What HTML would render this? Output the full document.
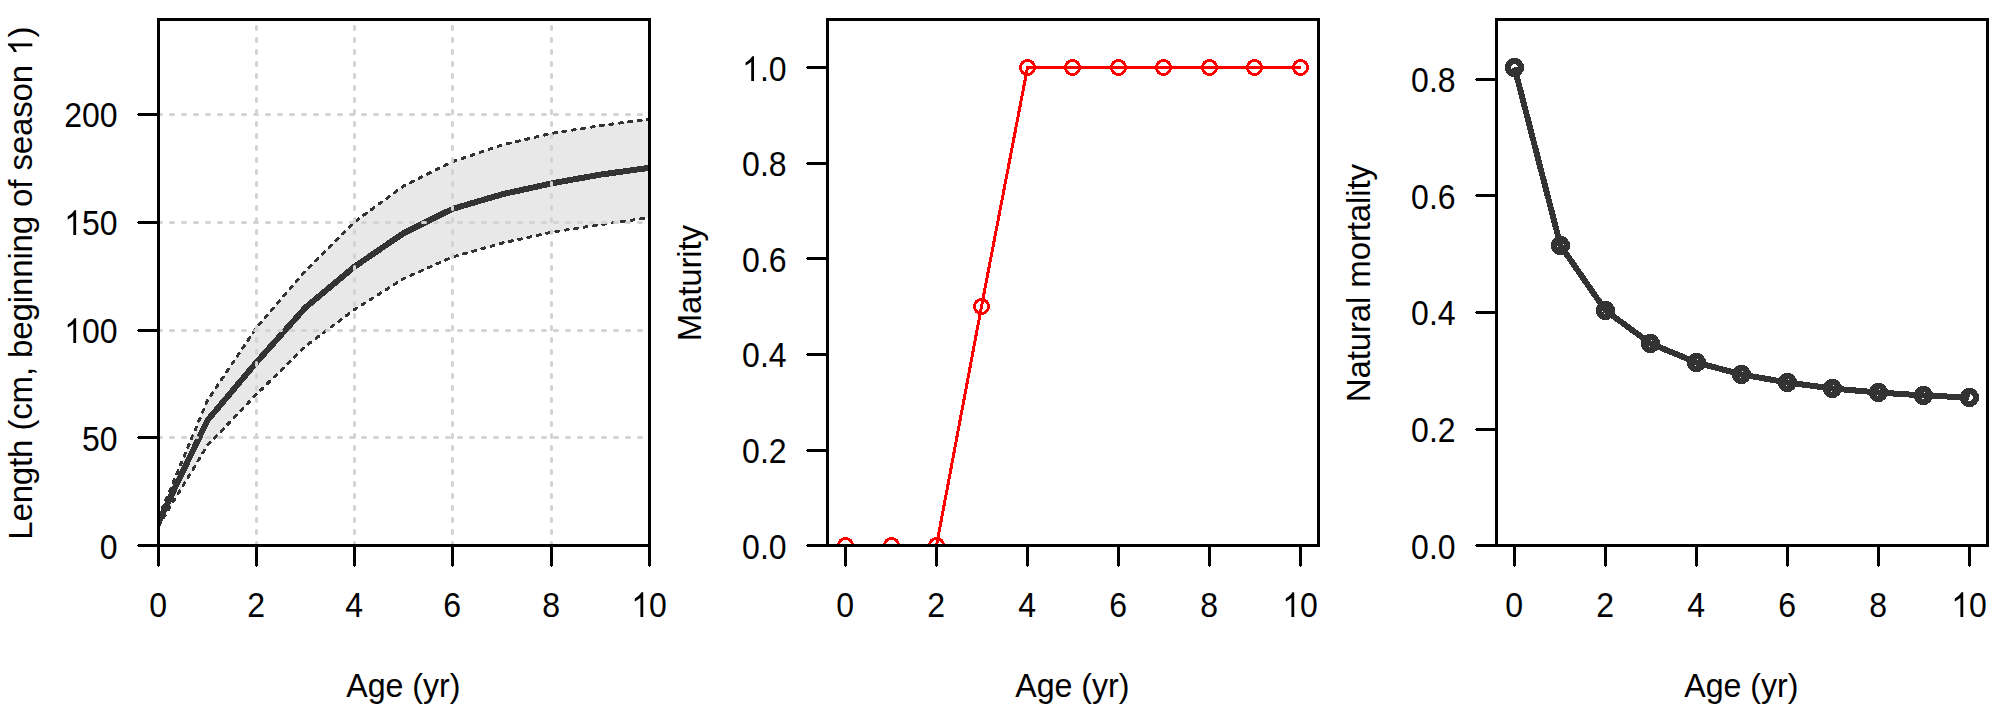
<!DOCTYPE html>
<html><head><meta charset="utf-8"><title>Biology plots</title>
<style>
html,body{margin:0;padding:0;background:#fff;}
body{width:2007px;height:708px;overflow:hidden;}
svg{display:block;}
text{font-family:"Liberation Sans",sans-serif;font-size:33px;fill:#000;}
</style></head><body>
<svg width="2007" height="708" viewBox="0 0 2007 708">
<rect width="2007" height="708" fill="#fff"/>
<!-- Panel 1: growth -->
<clipPath id="c1"><rect x="158.5" y="19.5" width="491" height="526"/></clipPath>
<g clip-path="url(#c1)">
<polygon points="158.5,517.5 207.5,400.4 256.5,327.6 305.5,270.9 354.5,221.9 403.5,186.1 452.5,161.7 502.5,144.8 551.5,133.4 600.5,125.6 649.5,119.1 649.5,217.6 600.5,224.6 551.5,232.3 502.5,243 452.5,257 403.5,278.7 354.5,309.5 305.5,346.3 256.5,394.3 207.5,445.3 158.5,526" fill="#e8e8e8" shape-rendering="crispEdges"/>
<g fill="none" stroke="#333" shape-rendering="crispEdges">
<polyline stroke-width="6" stroke-linejoin="round" points="158.5,522 207.5,420.3 256.5,362.3 305.5,307.5 354.5,266.7 403.5,233.2 452.5,208.9 502.5,194.2 551.5,183.4 600.5,174.6 649.5,167.8"/>
<polyline stroke-width="3" stroke-dasharray="3 6.5" stroke-linecap="round" points="158.5,517.5 207.5,400.4 256.5,327.6 305.5,270.9 354.5,221.9 403.5,186.1 452.5,161.7 502.5,144.8 551.5,133.4 600.5,125.6 649.5,119.1"/>
<polyline stroke-width="3" stroke-dasharray="3 6.5" stroke-linecap="round" points="158.5,526 207.5,445.3 256.5,394.3 305.5,346.3 354.5,309.5 403.5,278.7 452.5,257 502.5,243 551.5,232.3 600.5,224.6 649.5,217.6"/>
</g>
<g stroke="#d3d3d3" stroke-width="3" stroke-dasharray="3 9" stroke-linecap="round" fill="none">
<path d="M256.5 545.5V21"/>
<path d="M354.5 545.5V21"/>
<path d="M452.5 545.5V21"/>
<path d="M551.5 545.5V21"/>
<path d="M158.5 437.5H648"/>
<path d="M158.5 330.5H648"/>
<path d="M158.5 222.5H648"/>
<path d="M158.5 114.5H648"/>
</g>
</g>
<g stroke="#000" stroke-width="3" fill="none" stroke-linecap="round" shape-rendering="crispEdges">
<rect x="158.5" y="19.5" width="491" height="526"/>
<path d="M158.5 545.5H649.5"/>
<path d="M158.5 545.5V565.3"/>
<path d="M256.5 545.5V565.3"/>
<path d="M354.5 545.5V565.3"/>
<path d="M452.5 545.5V565.3"/>
<path d="M551.5 545.5V565.3"/>
<path d="M649.5 545.5V565.3"/>
<path d="M158.5 114.5V545.5"/>
<path d="M158.5 545.5H138.7"/>
<path d="M158.5 437.5H138.7"/>
<path d="M158.5 330.5H138.7"/>
<path d="M158.5 222.5H138.7"/>
<path d="M158.5 114.5H138.7"/>
</g>
<g text-anchor="middle">
<g transform="translate(158.1 617) scale(0.97 1.05)"><text x="-9.18" y="0" text-anchor="start">0</text></g>
<g transform="translate(256.1 617) scale(0.97 1.05)"><text x="-9.18" y="0" text-anchor="start">2</text></g>
<g transform="translate(354.1 617) scale(0.97 1.05)"><text x="-9.18" y="0" text-anchor="start">4</text></g>
<g transform="translate(452.1 617) scale(0.97 1.05)"><text x="-9.18" y="0" text-anchor="start">6</text></g>
<g transform="translate(551.1 617) scale(0.97 1.05)"><text x="-9.18" y="0" text-anchor="start">8</text></g>
<g transform="translate(649.1 617) scale(0.97 1.05)"><path transform="translate(-18.35 0) scale(0.016113 -0.016000)" d="M763 0H583V1147Q518 1085 412.5 1023T223 930V1104Q374 1175 487 1276T647 1472H763Z"/><text x="0" y="0" text-anchor="start">0</text></g>
<text transform="translate(403.4 696.8) scale(0.974 1.034)">Age (yr)</text>
</g>
<g text-anchor="end">
<g transform="translate(117.6 559) scale(0.97 1.05)"><text x="-18.35" y="0" text-anchor="start">0</text></g>
<g transform="translate(117.6 451) scale(0.97 1.05)"><text x="-36.71" y="0" text-anchor="start">50</text></g>
<g transform="translate(117.6 343) scale(0.97 1.05)"><path transform="translate(-55.06 0) scale(0.016113 -0.016000)" d="M763 0H583V1147Q518 1085 412.5 1023T223 930V1104Q374 1175 487 1276T647 1472H763Z"/><text x="-36.71" y="0" text-anchor="start">00</text></g>
<g transform="translate(117.6 235) scale(0.97 1.05)"><path transform="translate(-55.06 0) scale(0.016113 -0.016000)" d="M763 0H583V1147Q518 1085 412.5 1023T223 930V1104Q374 1175 487 1276T647 1472H763Z"/><text x="-36.71" y="0" text-anchor="start">50</text></g>
<g transform="translate(117.6 127) scale(0.97 1.05)"><text x="-55.06" y="0" text-anchor="start">200</text></g>
</g>
<g transform="translate(32.3 283.2) rotate(-90) scale(1 1.034)"><text x="-256.63" text-anchor="start" letter-spacing="-0.12">Length (cm, beginning of season</text><path transform="translate(227.52 0) scale(0.016113 -0.016000)" d="M763 0H583V1147Q518 1085 412.5 1023T223 930V1104Q374 1175 487 1276T647 1472H763Z"/><text x="245.76" text-anchor="start">)</text></g>
<!-- Panel 2: maturity -->
<clipPath id="c2"><rect x="827.5" y="19.5" width="491" height="526"/></clipPath>
<g fill="none" stroke="#f00" stroke-width="3" clip-path="url(#c2)" shape-rendering="crispEdges">
<polyline points="845.5,545.5 891.5,545.5 936.5,545.5 981.5,306.5 1027.5,67.5 1072.5,67.5 1118.5,67.5 1163.5,67.5 1209.5,67.5 1254.5,67.5 1300.5,67.5"/>
<circle cx="845.5" cy="545.5" r="7"/>
<circle cx="891.5" cy="545.5" r="7"/>
<circle cx="936.5" cy="545.5" r="7"/>
<circle cx="981.5" cy="306.5" r="7"/>
<circle cx="1027.5" cy="67.5" r="7"/>
<circle cx="1072.5" cy="67.5" r="7"/>
<circle cx="1118.5" cy="67.5" r="7"/>
<circle cx="1163.5" cy="67.5" r="7"/>
<circle cx="1209.5" cy="67.5" r="7"/>
<circle cx="1254.5" cy="67.5" r="7"/>
<circle cx="1300.5" cy="67.5" r="7"/>
</g>
<g stroke="#000" stroke-width="3" fill="none" stroke-linecap="round" shape-rendering="crispEdges">
<rect x="827.5" y="19.5" width="491" height="526"/>
<path d="M845.5 545.5H1300.5"/>
<path d="M845.5 545.5V565.3"/>
<path d="M936.5 545.5V565.3"/>
<path d="M1027.5 545.5V565.3"/>
<path d="M1118.5 545.5V565.3"/>
<path d="M1209.5 545.5V565.3"/>
<path d="M1300.5 545.5V565.3"/>
<path d="M827.5 67.5V545.5"/>
<path d="M827.5 545.5H807.7"/>
<path d="M827.5 450.5H807.7"/>
<path d="M827.5 354.5H807.7"/>
<path d="M827.5 258.5H807.7"/>
<path d="M827.5 163.5H807.7"/>
<path d="M827.5 67.5H807.7"/>
</g>
<g text-anchor="middle">
<g transform="translate(845.1 617) scale(0.97 1.05)"><text x="-9.18" y="0" text-anchor="start">0</text></g>
<g transform="translate(936.1 617) scale(0.97 1.05)"><text x="-9.18" y="0" text-anchor="start">2</text></g>
<g transform="translate(1027.1 617) scale(0.97 1.05)"><text x="-9.18" y="0" text-anchor="start">4</text></g>
<g transform="translate(1118.1 617) scale(0.97 1.05)"><text x="-9.18" y="0" text-anchor="start">6</text></g>
<g transform="translate(1209.1 617) scale(0.97 1.05)"><text x="-9.18" y="0" text-anchor="start">8</text></g>
<g transform="translate(1300.1 617) scale(0.97 1.05)"><path transform="translate(-18.35 0) scale(0.016113 -0.016000)" d="M763 0H583V1147Q518 1085 412.5 1023T223 930V1104Q374 1175 487 1276T647 1472H763Z"/><text x="0" y="0" text-anchor="start">0</text></g>
<text transform="translate(1072.4 696.8) scale(0.974 1.034)">Age (yr)</text>
</g>
<g text-anchor="end">
<g transform="translate(786.6 559) scale(0.97 1.05)"><text x="-45.87" y="0" text-anchor="start">0.0</text></g>
<g transform="translate(786.6 463) scale(0.97 1.05)"><text x="-45.87" y="0" text-anchor="start">0.2</text></g>
<g transform="translate(786.6 367) scale(0.97 1.05)"><text x="-45.87" y="0" text-anchor="start">0.4</text></g>
<g transform="translate(786.6 272) scale(0.97 1.05)"><text x="-45.87" y="0" text-anchor="start">0.6</text></g>
<g transform="translate(786.6 176) scale(0.97 1.05)"><text x="-45.87" y="0" text-anchor="start">0.8</text></g>
<g transform="translate(786.6 81) scale(0.97 1.05)"><path transform="translate(-45.87 0) scale(0.016113 -0.016000)" d="M763 0H583V1147Q518 1085 412.5 1023T223 930V1104Q374 1175 487 1276T647 1472H763Z"/><text x="-27.52" y="0" text-anchor="start">.0</text></g>
</g>
<text text-anchor="middle" letter-spacing="-0.12" transform="translate(701.3 283.2) rotate(-90) scale(1 1.034)">Maturity</text>
<!-- Panel 3: natural mortality -->
<g fill="none" stroke="#333" shape-rendering="crispEdges">
<polyline stroke-width="6" stroke-linejoin="round" points="1514.5,67.5 1560.5,245.5 1605.5,310.5 1650.5,343.5 1696.5,362.5 1741.5,374.5 1787.5,382.5 1832.5,388.5 1878.5,392.5 1923.5,395.5 1969.5,397.5"/>
<circle cx="1514.5" cy="67.5" r="6.4" stroke-width="6.4"/>
<circle cx="1560.5" cy="245.5" r="6.4" stroke-width="6.4"/>
<circle cx="1605.5" cy="310.5" r="6.4" stroke-width="6.4"/>
<circle cx="1650.5" cy="343.5" r="6.4" stroke-width="6.4"/>
<circle cx="1696.5" cy="362.5" r="6.4" stroke-width="6.4"/>
<circle cx="1741.5" cy="374.5" r="6.4" stroke-width="6.4"/>
<circle cx="1787.5" cy="382.5" r="6.4" stroke-width="6.4"/>
<circle cx="1832.5" cy="388.5" r="6.4" stroke-width="6.4"/>
<circle cx="1878.5" cy="392.5" r="6.4" stroke-width="6.4"/>
<circle cx="1923.5" cy="395.5" r="6.4" stroke-width="6.4"/>
<circle cx="1969.5" cy="397.5" r="6.4" stroke-width="6.4"/>
</g>
<g stroke="#000" stroke-width="3" fill="none" stroke-linecap="round" shape-rendering="crispEdges">
<rect x="1496.5" y="19.5" width="491" height="526"/>
<path d="M1514.5 545.5H1969.5"/>
<path d="M1514.5 545.5V565.3"/>
<path d="M1605.5 545.5V565.3"/>
<path d="M1696.5 545.5V565.3"/>
<path d="M1787.5 545.5V565.3"/>
<path d="M1878.5 545.5V565.3"/>
<path d="M1969.5 545.5V565.3"/>
<path d="M1496.5 79.5V545.5"/>
<path d="M1496.5 545.5H1476.7"/>
<path d="M1496.5 429.5H1476.7"/>
<path d="M1496.5 312.5H1476.7"/>
<path d="M1496.5 195.5H1476.7"/>
<path d="M1496.5 79.5H1476.7"/>
</g>
<g text-anchor="middle">
<g transform="translate(1514.1 617) scale(0.97 1.05)"><text x="-9.18" y="0" text-anchor="start">0</text></g>
<g transform="translate(1605.1 617) scale(0.97 1.05)"><text x="-9.18" y="0" text-anchor="start">2</text></g>
<g transform="translate(1696.1 617) scale(0.97 1.05)"><text x="-9.18" y="0" text-anchor="start">4</text></g>
<g transform="translate(1787.1 617) scale(0.97 1.05)"><text x="-9.18" y="0" text-anchor="start">6</text></g>
<g transform="translate(1878.1 617) scale(0.97 1.05)"><text x="-9.18" y="0" text-anchor="start">8</text></g>
<g transform="translate(1969.1 617) scale(0.97 1.05)"><path transform="translate(-18.35 0) scale(0.016113 -0.016000)" d="M763 0H583V1147Q518 1085 412.5 1023T223 930V1104Q374 1175 487 1276T647 1472H763Z"/><text x="0" y="0" text-anchor="start">0</text></g>
<text transform="translate(1741.4 696.8) scale(0.974 1.034)">Age (yr)</text>
</g>
<g text-anchor="end">
<g transform="translate(1455.6 559) scale(0.97 1.05)"><text x="-45.87" y="0" text-anchor="start">0.0</text></g>
<g transform="translate(1455.6 442) scale(0.97 1.05)"><text x="-45.87" y="0" text-anchor="start">0.2</text></g>
<g transform="translate(1455.6 325) scale(0.97 1.05)"><text x="-45.87" y="0" text-anchor="start">0.4</text></g>
<g transform="translate(1455.6 209) scale(0.97 1.05)"><text x="-45.87" y="0" text-anchor="start">0.6</text></g>
<g transform="translate(1455.6 92) scale(0.97 1.05)"><text x="-45.87" y="0" text-anchor="start">0.8</text></g>
</g>
<text text-anchor="middle" letter-spacing="-0.12" transform="translate(1370.3 283.2) rotate(-90) scale(1 1.034)">Natural mortality</text>
</svg>
</body></html>
